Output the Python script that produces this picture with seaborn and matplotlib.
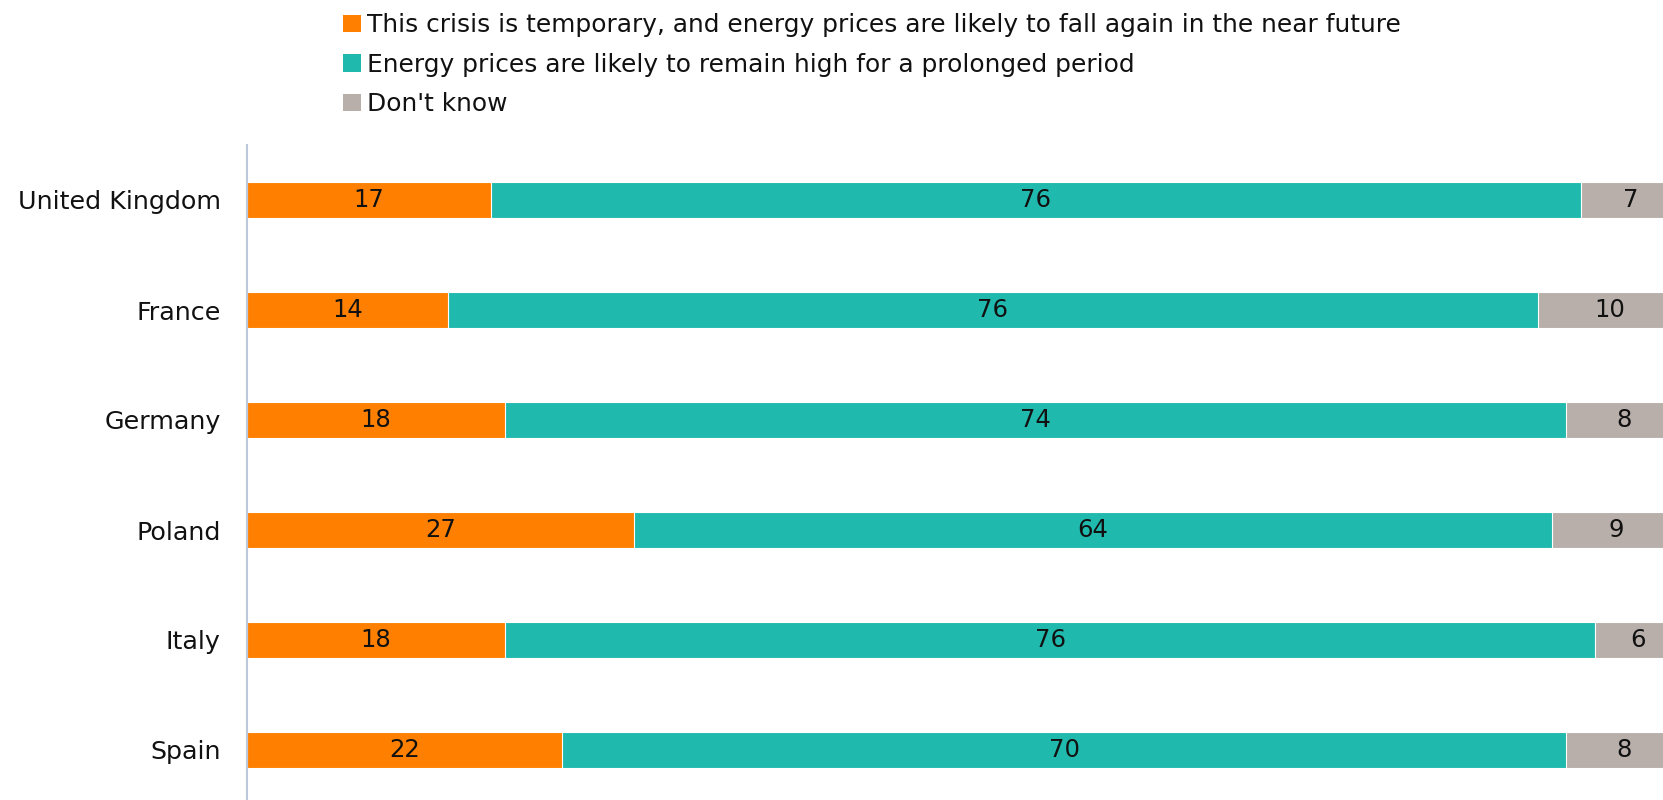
import pandas as pd
import numpy as np
import matplotlib.pyplot as plt
import seaborn as sns
from matplotlib.patches import Patch

# survey answers per country, in percent
countries = ['United Kingdom', 'France', 'Germany', 'Poland', 'Italy', 'Spain']
temporary = [17, 14, 18, 27, 18, 22]
remain_high = [76, 76, 74, 64, 76, 70]
dont_know = [7, 10, 8, 9, 6, 8]

series_names = ['This crisis is temporary, and energy prices are likely to fall again in the near future',
                'Energy prices are likely to remain high for a prolonged period',
                "Don't know"]
colors = ['#FF7F00', '#20B9AE', '#B8AFAA']

df = pd.DataFrame({'country': countries,
                   'temporary': temporary,
                   'remain_high': remain_high,
                   'dont_know': dont_know})
cols = ['temporary', 'remain_high', 'dont_know']
cum = df[cols].cumsum(axis=1)

sns.set_style('white')
plt.rcParams['font.family'] = ['DejaVu Sans']

fig = plt.figure(figsize=(16.63, 8), dpi=100)
# plot area runs a little past the right edge of the image (as in the original)
ax = fig.add_axes([247 / 1663, -5 / 800, 1434 / 1663, 660 / 800])

# stacked bars drawn as overlapping cumulative totals, widest first
for col, color in zip(reversed(cols), reversed(colors)):
    sns.barplot(x=cum[col], y=df['country'], orient='h', color=color, saturation=1,
                width=0.336, edgecolor='white', linewidth=0.8, ax=ax)

# value labels in the middle of each segment
for i, row in df.iterrows():
    start = 0
    for col in cols:
        v = row[col]
        ax.text(start + v / 2, i, str(v), ha='center', va='center',
                fontsize=17.5, color='#111111')
        start += v

ax.set_xlim(0, 100)
ax.set_ylim(5.5, -0.5)
ax.set_xlabel('')
ax.set_ylabel('')
ax.set_xticks([])
ax.tick_params(axis='y', length=0, pad=19, labelsize=18.3, labelcolor='#111111')
for s in ['top', 'right', 'bottom']:
    ax.spines[s].set_visible(False)
ax.spines['left'].set_color('#BCC8DA')
ax.spines['left'].set_linewidth(1.5)

handles = [Patch(facecolor=c, edgecolor='none') for c in colors]
leg = fig.legend(handles, series_names, loc='upper left', bbox_to_anchor=(326 / 1663, 1.005),
                 frameon=False, fontsize=17.9, handlelength=0.7, handleheight=0.7,
                 handletextpad=0.25, labelspacing=0.62, borderaxespad=0.3)
for t in leg.get_texts():
    t.set_color('#111111')

fig.savefig('out.png', dpi=100)
